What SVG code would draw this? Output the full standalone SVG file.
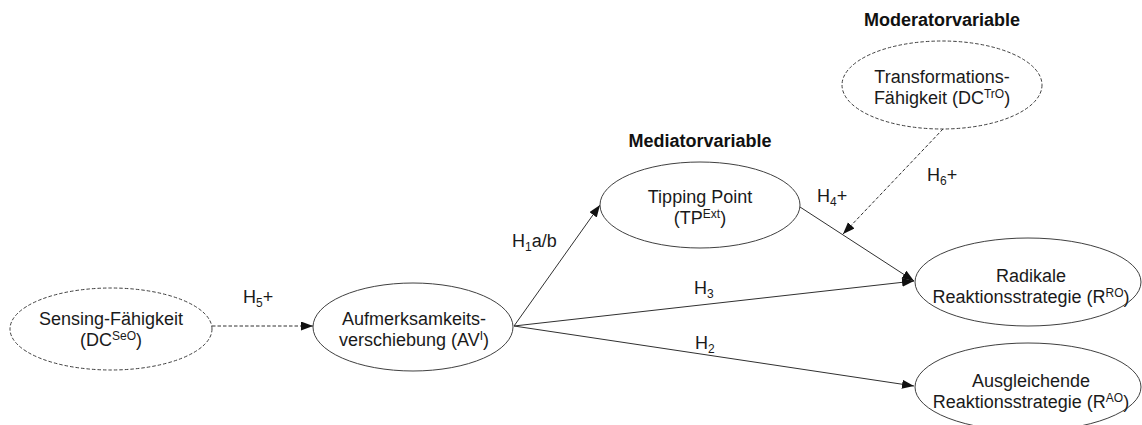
<svg xmlns="http://www.w3.org/2000/svg" width="1142" height="425" viewBox="0 0 1142 425">
  <style>
    .node { fill: #ffffff; stroke: #404040; stroke-width: 1; }
    .dashed { stroke-dasharray: 3.5 2; }
    .lbl { font-family: "Liberation Sans", Arial, sans-serif; font-size: 18px; fill: #1a1a1a; }
    .title { font-family: "Liberation Sans", Arial, sans-serif; font-size: 18px; font-weight: bold; fill: #111111; }
    .edge { fill: none; stroke: #303030; stroke-width: 1; }
    .sup { font-size: 12px; }
  </style>
  <defs>
    <marker id="arrow" markerUnits="userSpaceOnUse" markerWidth="13" markerHeight="10" refX="12" refY="4.5" orient="auto">
      <path d="M0,0 L12,4.5 L0,9 z" fill="#111111"/>
    </marker>
  </defs>

  <rect width="1142" height="425" fill="#ffffff"/>

  <!-- connectors -->
  <g id="connectors">
    <line class="edge dashed" x1="212" y1="326" x2="313" y2="326" marker-end="url(#arrow)"/>
    <line class="edge" x1="514" y1="326" x2="600" y2="205" marker-end="url(#arrow)"/>
    <line class="edge" x1="514" y1="326" x2="914" y2="281" marker-end="url(#arrow)"/>
    <line class="edge" x1="514" y1="326" x2="914" y2="386" marker-end="url(#arrow)"/>
    <line class="edge" x1="800" y1="207" x2="914" y2="281" marker-end="url(#arrow)"/>
    <line class="edge dashed" x1="943" y1="129" x2="843" y2="234" marker-end="url(#arrow)"/>

    <text class="lbl" x="243" y="303">H<tspan class="sup" dy="4">5</tspan><tspan dy="-4">+</tspan></text>
    <text class="lbl" x="512" y="247">H<tspan class="sup" dy="4">1</tspan><tspan dy="-4">a/b</tspan></text>
    <text class="lbl" x="817" y="202">H<tspan class="sup" dy="4">4</tspan><tspan dy="-4">+</tspan></text>
    <text class="lbl" x="927" y="181">H<tspan class="sup" dy="4">6</tspan><tspan dy="-4">+</tspan></text>
    <text class="lbl" x="694" y="294">H<tspan class="sup" dy="4">3</tspan></text>
    <text class="lbl" x="695" y="349">H<tspan class="sup" dy="4">2</tspan></text>
  </g>

  <!-- nodes -->
  <g id="sensing">
    <ellipse class="node dashed" cx="111" cy="329" rx="101" ry="41"/>
    <text class="lbl" text-anchor="middle" x="111" y="325">Sensing-Fähigkeit</text>
    <text class="lbl" text-anchor="middle" x="111" y="346">(DC<tspan class="sup" dy="-6">SeO</tspan><tspan dy="6">)</tspan></text>
  </g>

  <g id="aufmerksamkeit">
    <ellipse class="node" cx="413" cy="327" rx="100" ry="44"/>
    <text class="lbl" text-anchor="middle" x="414" y="325">Aufmerksamkeits-</text>
    <text class="lbl" text-anchor="middle" x="414" y="346">verschiebung (AV<tspan class="sup" dy="-6">I</tspan><tspan dy="6">)</tspan></text>
  </g>

  <g id="tipping-point">
    <text class="title" text-anchor="middle" x="700" y="147">Mediatorvariable</text>
    <ellipse class="node" cx="700" cy="205" rx="100" ry="43"/>
    <text class="lbl" text-anchor="middle" x="700" y="203">Tipping Point</text>
    <text class="lbl" text-anchor="middle" x="700" y="224">(TP<tspan class="sup" dy="-6">Ext</tspan><tspan dy="6">)</tspan></text>
  </g>

  <g id="transformation">
    <text class="title" text-anchor="middle" x="942" y="26">Moderatorvariable</text>
    <ellipse class="node dashed" cx="942" cy="85" rx="100" ry="44"/>
    <text class="lbl" text-anchor="middle" x="942" y="83">Transformations-</text>
    <text class="lbl" text-anchor="middle" x="942" y="104">Fähigkeit (DC<tspan class="sup" dy="-6">TrO</tspan><tspan dy="6">)</tspan></text>
  </g>

  <g id="radikal">
    <ellipse class="node" cx="1028" cy="282" rx="113" ry="44"/>
    <text class="lbl" text-anchor="middle" x="1031" y="282">Radikale</text>
    <text class="lbl" text-anchor="middle" x="1031" y="303">Reaktionsstrategie (R<tspan class="sup" dy="-6">RO</tspan><tspan dy="6">)</tspan></text>
  </g>

  <g id="ausgleichend">
    <ellipse class="node" cx="1028" cy="387" rx="113" ry="44"/>
    <text class="lbl" text-anchor="middle" x="1031" y="387">Ausgleichende</text>
    <text class="lbl" text-anchor="middle" x="1031" y="408">Reaktionsstrategie (R<tspan class="sup" dy="-6">AO</tspan><tspan dy="6">)</tspan></text>
  </g>
</svg>
